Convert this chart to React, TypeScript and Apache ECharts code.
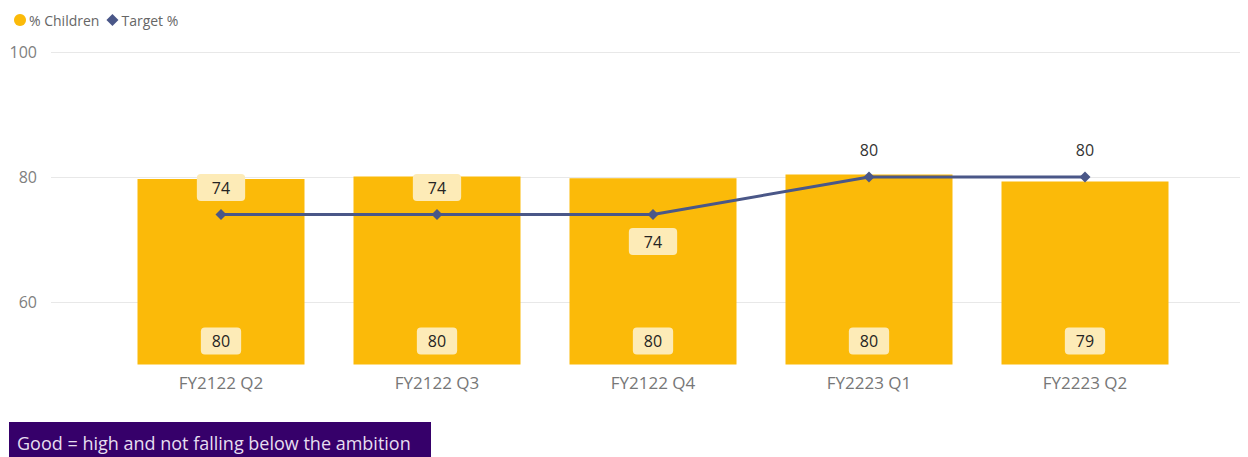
import React, { useEffect, useRef } from "react";
import * as echarts from "echarts";

const categories = ["FY2122 Q2", "FY2122 Q3", "FY2122 Q4", "FY2223 Q1", "FY2223 Q2"];
const childrenPct = [79.7, 80.1, 79.8, 80.4, 79.3];
const targetPct = [74, 74, 74, 80, 80];
const yTicks = [60, 80, 100];
const noteText = "Good = high and not falling below the ambition";

const FONT = "'Open Sans', 'Noto Sans', sans-serif";
const BAR = "#FBBA09";
const LINE = "#4A5788";
const PALE = "#FDEBB7";

export default function App() {
  const ref = useRef<HTMLDivElement>(null);
  useEffect(() => {
    if (!ref.current) return;
    const chart = echarts.init(ref.current, null, { renderer: "svg" });
    const linePos = ["top", "top", "bottom", "top", "top"];
    const lineBg = [true, true, true, false, false];
    const gridTop = 52;
    const gridBottom = 92.5;
    const option: any = {
      animation: false,
      textStyle: { fontFamily: FONT },
      legend: {
        left: 9,
        top: 8,
        itemWidth: 12,
        itemHeight: 12,
        itemGap: 7,
        textStyle: { fontSize: 14, color: "#666", fontFamily: FONT, padding: [0, 0, 0, -2] },
        data: [
          { name: "% Children", icon: "circle" },
          { name: "Target %", icon: "diamond" },
        ],
      },
      grid: [
        { left: 51, right: 8, top: gridTop, bottom: gridBottom },
        { left: 113, right: 55, top: gridTop, bottom: gridBottom },
      ],
      xAxis: [
        { type: "value", gridIndex: 0, show: false, min: 0, max: 1 },
        {
          type: "category",
          gridIndex: 1,
          data: categories,
          axisLine: { show: false },
          axisTick: { show: false },
          axisLabel: { fontSize: 17, color: "#777", margin: 9, fontFamily: FONT },
        },
      ],
      yAxis: [
        {
          type: "value",
          gridIndex: 0,
          min: 50,
          max: 100,
          interval: 10,
          axisLine: { show: false },
          axisTick: { show: false },
          axisLabel: {
            fontSize: 16,
            color: "#808080",
            margin: 14,
            fontFamily: FONT,
            formatter: (v: number) => (yTicks.includes(v) ? String(v) : ""),
          },
          splitLine: { show: true, lineStyle: { color: ["rgba(0,0,0,0)", "#E8E8E8"], width: 1 } },
        },
        {
          type: "value",
          gridIndex: 1,
          min: 50,
          max: 100,
          show: false,
          splitLine: { show: false },
        },
      ],
      series: [
        {
          name: "% Children",
          type: "bar",
          xAxisIndex: 1,
          yAxisIndex: 1,
          data: childrenPct,
          barWidth: 167,
          itemStyle: { color: BAR },
          z: 2,
          label: {
            show: true,
            position: "insideBottom",
            distance: 10,
            formatter: (p: any) => String(Math.round(p.value)),
            fontSize: 16,
            color: "#252423",
            fontFamily: FONT,
            backgroundColor: PALE,
            borderRadius: 4,
            padding: [4, 11, 4, 11],
            lineHeight: 19,
          },
        },
        {
          name: "Target %",
          type: "line",
          xAxisIndex: 1,
          yAxisIndex: 1,
          z: 3,
          symbol: "diamond",
          symbolSize: 11,
          lineStyle: { color: LINE, width: 3 },
          itemStyle: { color: LINE },
          data: targetPct.map((v, i) => ({
            value: v,
            label: {
              show: true,
              position: linePos[i],
              distance: 8,
              formatter: (p: any) => String(Math.round(p.value)),
              fontSize: 16,
              color: lineBg[i] ? "#252423" : "#333",
              fontFamily: FONT,
              backgroundColor: lineBg[i] ? PALE : "transparent",
              borderRadius: 4,
              padding: [4, 15, 4, 15],
              lineHeight: 19,
            },
          })),
        },
      ],
      graphic: [
        {
          type: "rect",
          left: 9,
          top: 422,
          shape: { width: 422, height: 40 },
          style: { fill: "#36006A" },
          z: 10,
        },
        {
          type: "text",
          left: 17,
          top: 434,
          style: { text: noteText, fill: "#E6DEF0", font: `18px ${FONT}` },
          z: 11,
        },
      ],
    };
    chart.setOption(option);
    return () => chart.dispose();
  }, []);
  return (
    <div
      ref={ref}
      style={{ position: "absolute", left: 0, top: 0, width: 1248, height: 457, background: "#fff" }}
    />
  );
}
